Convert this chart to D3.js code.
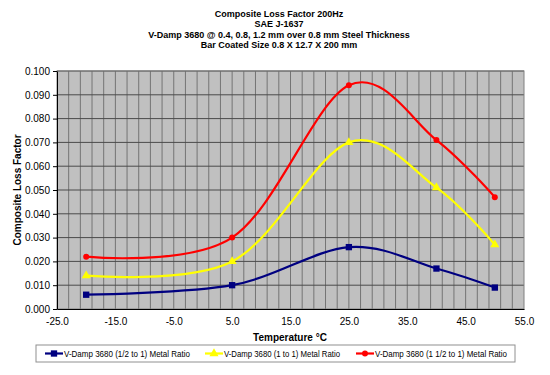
<!DOCTYPE html>
<html><head><meta charset="utf-8">
<script src="https://cdn.jsdelivr.net/npm/d3@7"></script>
<style>body{margin:0;background:#fff}svg{display:block;font-family:"Liberation Sans",Arial,sans-serif}</style>
</head><body><svg id="c" width="550" height="375"></svg>
<script>
const titles = ["Composite Loss Factor 200Hz","SAE J-1637","V-Damp 3680 @ 0.4, 0.8, 1.2 mm over 0.8 mm Steel Thickness","Bar Coated Size 0.8 X 12.7 X 200 mm"];
const temps = [-20, 5, 25, 40, 50];
const seriesNames = ["V-Damp 3680 (1/2 to 1) Metal Ratio","V-Damp 3680 (1 to 1) Metal Ratio","V-Damp 3680 (1 1/2 to 1) Metal Ratio"];
const halfRatio = [0.006, 0.010, 0.026, 0.017, 0.009];
const oneRatio = [0.014, 0.020, 0.070, 0.051, 0.027];
const oneHalfRatio = [0.022, 0.030, 0.094, 0.071, 0.047];
const colors = ["#000080","#FFFF00","#FF0000"];
const markers = ["square","triangle","circle"];
const xTicks = [-25,-15,-5,5,15,25,35,45,55];
const yTicks = [0,0.01,0.02,0.03,0.04,0.05,0.06,0.07,0.08,0.09,0.1];

const svg = d3.select("#c");
const L=57,R=524,T=71,B=309;
const x = d3.scaleLinear().domain([-25,55]).range([L,R]);
const y = d3.scaleLinear().domain([0,0.1]).range([B,T]);

svg.selectAll("text.title").data(titles).join("text")
  .attr("x",279).attr("y",(d,i)=>17+i*10.3).attr("text-anchor","middle")
  .attr("font-size","9px").attr("font-weight","bold").text(d=>d);

svg.append("rect").attr("x",L).attr("y",T).attr("width",R-L).attr("height",B-T).attr("fill","#C0C0C0");
const g = svg.append("g");
g.selectAll("line.v").data(d3.range(-23,55,2)).join("line")
  .attr("x1",d=>x(d)).attr("x2",d=>x(d)).attr("y1",T).attr("y2",B)
  .attr("stroke","#747474").attr("stroke-width",1);
g.selectAll("line.h").data(yTicks.slice(1)).join("line")
  .attr("x1",L).attr("x2",R).attr("y1",d=>y(d)).attr("y2",d=>y(d))
  .attr("stroke","#4a4a4a").attr("stroke-width",1);
svg.append("rect").attr("x",L).attr("y",T).attr("width",R-L).attr("height",B-T)
  .attr("fill","none").attr("stroke","#808080");

const fmt = f => d => d3.format(f)(d).replace("\u2212","-");
const xAxis = svg.append("g").attr("transform",`translate(0,${B})`)
  .call(d3.axisBottom(x).tickValues(xTicks).tickFormat(fmt(".1f")).tickSize(4).tickSizeOuter(0));
const yAxis = svg.append("g").attr("transform",`translate(${L},0)`)
  .call(d3.axisLeft(y).tickValues(yTicks).tickFormat(fmt(".3f")).tickSize(4).tickSizeOuter(0));
[xAxis,yAxis].forEach(a=>{a.selectAll("path,line").attr("stroke","#000");
  a.selectAll("text").attr("font-size","10px").attr("fill","#000").attr("font-family","Liberation Sans, Arial, sans-serif");});
xAxis.selectAll("line").attr("y2",0);
xAxis.selectAll("text").attr("y",6).attr("dy","0.95em");
yAxis.selectAll("text").attr("x",-7);

svg.append("text").attr("x",290).attr("y",341).attr("text-anchor","middle")
  .attr("font-size","10px").attr("font-weight","bold").text("Temperature °C");
svg.append("text").attr("transform","translate(21,190) rotate(-90)").attr("text-anchor","middle")
  .attr("font-size","10px").attr("font-weight","bold").text("Composite Loss Factor");

const all = [halfRatio, oneRatio, oneHalfRatio];
const line = d3.line().x(d=>x(d[0])).y(d=>y(d[1])).curve(d3.curveCardinal.tension(0));
const sym = {square:d3.symbolSquare, triangle:d3.symbolTriangle, circle:d3.symbolCircle};
const sizes = {square:40, triangle:36, circle:28};
all.forEach((vals,i)=>{
  const pts = temps.map((t,j)=>[t,vals[j]]);
  svg.append("path").attr("d",line(pts)).attr("fill","none").attr("stroke",colors[i]).attr("stroke-width",2.2);
  svg.selectAll(null).data(pts).join("path")
    .attr("transform",d=>`translate(${x(d[0])},${y(d[1])})`)
    .attr("d",d3.symbol().type(sym[markers[i]]).size(sizes[markers[i]]))
    .attr("fill",colors[i]);
});

// legend
const lg = svg.append("g");
lg.append("rect").attr("x",36).attr("y",345).attr("width",479).attr("height",17)
  .attr("fill","#fff").attr("stroke","#909090");
const lx = [45,205,356];
const tl = [126,116,132];
seriesNames.forEach((n,i)=>{
  const gi = lg.append("g");
  gi.append("line").attr("x1",lx[i]).attr("x2",lx[i]+18).attr("y1",353.5).attr("y2",353.5)
    .attr("stroke",colors[i]).attr("stroke-width",2.2);
  gi.append("path").attr("transform",`translate(${lx[i]+9},353.5)`)
    .attr("d",d3.symbol().type(sym[markers[i]]).size(sizes[markers[i]])).attr("fill",colors[i]);
  gi.append("text").attr("x",lx[i]+19).attr("y",357).attr("font-size","8.5px")
    .attr("textLength",tl[i]).attr("lengthAdjust","spacingAndGlyphs").text(n);
});
</script></body></html>
